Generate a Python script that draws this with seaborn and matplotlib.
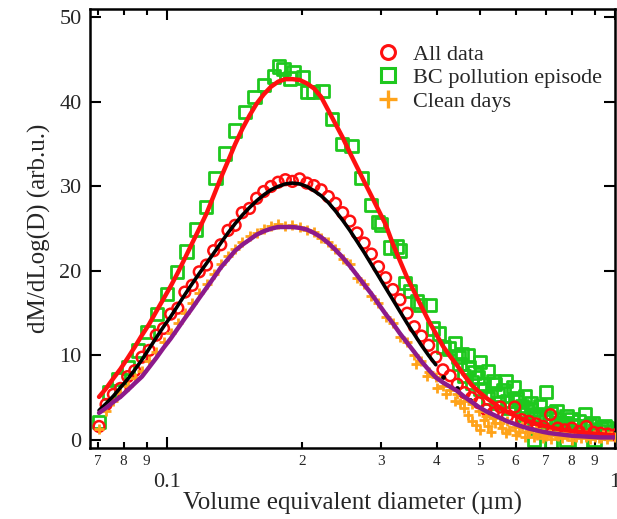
import seaborn as sns
import pandas as pd
import matplotlib.pyplot as plt
from matplotlib.lines import Line2D
from matplotlib.ticker import FixedLocator, FixedFormatter

# diameters (um) of the SP2 bins, shared by "All data" / "Clean days" and the fits
diam = [0.0705, 0.0731, 0.0759, 0.0787, 0.0817, 0.0847, 0.0879, 0.0912, 0.0946, 0.0982,
        0.1019, 0.1057, 0.1096, 0.1138, 0.1180, 0.1225, 0.1271, 0.1318, 0.1368, 0.1419,
        0.1472, 0.1528, 0.1585, 0.1644, 0.1706, 0.1770, 0.1837, 0.1905, 0.1977, 0.2051,
        0.2128, 0.2208, 0.2291, 0.2377, 0.2466, 0.2559, 0.2655, 0.2754, 0.2858, 0.2965,
        0.3076, 0.3192, 0.3311, 0.3436, 0.3565, 0.3698, 0.3837, 0.3981, 0.4130, 0.4285,
        0.4446, 0.4613, 0.4786, 0.4966, 0.5152, 0.5346, 0.5546, 0.5754, 0.5970, 0.6194,
        0.6427, 0.6668, 0.6918, 0.7178, 0.7447, 0.7727, 0.8017, 0.8318, 0.8630, 0.8954,
        0.9290, 0.9638, 1.0000]

all_data = [1.6, 4.2, 5.4, 6.1, 7.5, 8.2, 9.8, 10.6, 12.4, 13.2,
            14.9, 15.6, 17.5, 18.3, 19.9, 20.7, 22.4, 23.1, 24.8, 25.4,
            26.9, 27.4, 28.6, 29.4, 30.0, 30.5, 30.8, 30.6, 30.9, 30.4,
            30.1, 29.6, 28.8, 28.0, 26.9, 25.9, 24.5, 23.3, 22.0, 20.5,
            19.2, 17.8, 16.6, 15.0, 13.4, 12.3, 11.2, 9.8, 8.3, 7.6,
            6.6, 5.6, 5.0, 4.4, 3.6, 3.2, 3.9, 2.8, 3.9, 2.4,
            2.2, 1.9, 1.6, 3.0, 1.4, 1.2, 1.4, 1.0, 1.6, 0.9,
            0.8, 0.7, 0.6]

clean_days = [1.3, 3.4, 4.6, 5.5, 6.4, 7.3, 8.2, 9.3, 10.4, 11.6,
              12.7, 13.9, 15.0, 16.2, 17.4, 18.5, 19.6, 20.8, 21.8, 22.6,
              23.4, 24.1, 24.5, 25.0, 25.3, 25.5, 25.3, 25.4, 25.2, 24.8,
              24.6, 23.9, 23.4, 22.6, 21.4, 20.8, 19.2, 18.5, 17.0, 16.2,
              14.6, 13.9, 12.2, 11.6, 10.0, 9.4, 8.0, 7.5, 6.4, 5.9,
              5.4, 4.6, 4.2, 3.4, 2.8, 2.6, 2.0, 2.3, 1.5, 1.7,
              1.1, 1.3, 0.8, 0.9, 0.5, 0.8, 0.4, 0.7, 0.3, 0.6,
              0.2, 0.5, 0.4]
clean_tail_x = [0.36, 0.38, 0.40, 0.42, 0.44, 0.45, 0.46, 0.47, 0.48, 0.49,
                0.50, 0.51, 0.52, 0.53, 0.54, 0.56, 0.57, 0.58, 0.60, 0.61,
                0.63, 0.64, 0.66, 0.67, 0.69, 0.70, 0.72, 0.74, 0.76, 0.78,
                0.80, 0.82, 0.84, 0.86, 0.88, 0.90, 0.92, 0.94, 0.96, 0.98]
clean_tail_y = [9.0, 7.6, 6.2, 5.4, 4.6, 4.4, 3.8, 3.0, 2.2, 1.8,
                1.2, 2.4, 1.6, 1.0, 2.0, 1.4, 0.8, 1.2, 0.6, 1.0,
                0.4, 0.9, 0.3, 0.6, 0.2, 0.5, 0.1, 0.6, 0.2, 0.5,
                0.0, 0.4, 0.2, 0.6, 0.1, 0.4, 0.2, 0.6, 0.1, 0.5]

# BC pollution episode
bc_diam = [0.0705, 0.0741, 0.0779, 0.0818, 0.0861, 0.0905, 0.0951, 0.1000, 0.1051, 0.1105,
           0.1161, 0.1221, 0.1283, 0.1349, 0.1418, 0.1491, 0.1567, 0.1647, 0.1732, 0.1820,
           0.1914, 0.2012, 0.2115, 0.2223, 0.2337, 0.2457, 0.2583, 0.2715, 0.2854, 0.3000,
           0.3155, 0.3316, 0.3486, 0.3665, 0.3853, 0.4050, 0.4258, 0.4476, 0.4705, 0.4946,
           0.5200, 0.5466, 0.5746, 0.6041, 0.6350, 0.6676, 0.7018, 0.7377, 0.7755, 0.8152,
           0.8570, 0.9010, 0.9471, 0.9956]
bc_data = [2.1, 5.6, 7.2, 8.6, 10.6, 12.8, 14.9, 17.3, 19.9, 22.3,
           24.9, 27.6, 31.0, 33.9, 36.6, 38.8, 40.6, 42.0, 43.0, 43.9,
           43.5, 42.9, 41.2, 41.3, 38.0, 35.0, 34.8, 31.0, 27.8, 25.5,
           22.8, 22.4, 17.6, 16.0, 16.0, 12.6, 10.8, 9.8, 8.6, 7.4,
           8.1, 5.4, 4.6, 5.0, 3.4, 3.0, 5.7, 2.4, 2.0, 1.6,
           3.0, 1.2, 1.6, 1.0]
bc_extra_x = [0.178, 0.188, 0.206, 0.296, 0.326, 0.340, 0.361, 0.392, 0.414, 0.440, 0.455, 0.486, 0.510,
              0.535, 0.564, 0.594, 0.620, 0.650, 0.680, 0.720, 0.760, 0.800, 0.880, 0.930,
              0.45, 0.46, 0.47, 0.48, 0.50, 0.50, 0.52, 0.54, 0.55, 0.57, 0.58, 0.60, 0.62, 0.63,
              0.65, 0.66, 0.68, 0.70, 0.72, 0.74, 0.76, 0.78, 0.80, 0.83, 0.86, 0.89, 0.92, 0.96,
              0.66, 0.72, 0.78, 0.84, 0.90]
bc_extra_y = [44.2, 42.8, 41.2, 25.8, 22.9, 18.6, 16.4, 13.2, 11.0, 11.4, 10.2, 8.0, 6.6,
              7.0, 5.9, 6.3, 4.0, 4.4, 2.8, 3.2, 2.0, 2.4, 1.8, 1.4,
              9.0, 7.6, 10.0, 6.8, 9.2, 6.0, 5.0, 6.6, 4.4, 7.0, 3.8, 4.6, 3.0, 5.2,
              3.6, 2.6, 4.0, 2.2, 2.6, 3.4, 1.6, 2.8, 1.8, 2.2, 1.6, 2.0, 1.0, 1.4,
              0.0, -0.2, 0.0, -0.2, 0.0]

# log-normal fits
bc_fit = [5.1, 6.1, 7.3, 8.4, 9.7, 11.0, 12.4, 13.7, 15.2, 16.7,
          18.2, 19.8, 21.5, 23.3, 25.0, 26.8, 28.9, 31.0, 33.0, 35.0,
          36.8, 38.4, 39.8, 40.9, 41.8, 42.4, 42.7, 42.7, 42.6, 42.2,
          41.6, 40.6, 39.0, 37.4, 35.8, 34.0, 32.3, 30.6, 28.9, 27.2,
          25.5, 23.2, 21.2, 19.2, 17.5, 15.8, 14.1, 12.6, 11.1, 9.9,
          8.8, 7.6, 6.5, 5.7, 5.0, 4.4, 3.8, 3.3, 2.9, 2.5,
          2.2, 1.9, 1.7, 1.5, 1.3, 1.2, 1.05, 0.95, 0.85, 0.75,
          0.7, 0.6, 0.55]
all_fit = [3.5, 4.3, 5.2, 6.2, 7.2, 8.3, 9.5, 10.8, 12.1, 13.4,
           14.6, 15.9, 17.2, 18.5, 19.7, 20.9, 22.1, 23.3, 24.5, 25.6,
           26.6, 27.5, 28.3, 29.0, 29.6, 30.0, 30.3, 30.4, 30.3, 30.0,
           29.5, 28.9, 28.1, 27.1, 26.0, 24.8, 23.5, 22.2, 20.8, 19.4,
           18.0, 16.6, 15.2, 13.8, 12.5, 11.2, 10.0, 8.9]
all_tail_x = [0.414, 0.443, 0.475]
all_tail_y = [7.5, 6.1, 4.7]
clean_fit = [3.2, 3.8, 4.5, 5.1, 5.9, 6.7, 7.5, 8.6, 9.7, 10.9,
             12.0, 13.2, 14.4, 15.6, 16.8, 18.0, 19.2, 20.4, 21.4, 22.4,
             23.1, 23.7, 24.3, 24.7, 25.0, 25.2, 25.2, 25.2, 25.1, 24.9,
             24.5, 24.0, 23.3, 22.5, 21.6, 20.6, 19.5, 18.4, 17.3, 16.1,
             14.9, 13.8, 12.6, 11.5, 10.4, 9.3, 8.3, 7.4, 6.8, 6.3,
             5.8, 5.1, 4.5, 3.9, 3.4, 3.0, 2.6, 2.2, 1.9, 1.6,
             1.35, 1.15, 0.95, 0.8, 0.7, 0.6, 0.5, 0.45, 0.4, 0.35,
             0.3, 0.3, 0.3]

GREEN = '#1ec81e'
RED = '#ff1010'
ORANGE = '#ffa31a'
PURPLE = '#8c1a8c'

sns.set_theme(style="ticks")
plt.rcParams['font.family'] = ['Liberation Serif', 'DejaVu Serif']

fig = plt.figure(figsize=(6.17, 5.19), dpi=100)
ax = fig.add_axes([90/617, 71/519, 525/617, 439/519])

sns.scatterplot(x=bc_diam + bc_extra_x, y=bc_data + bc_extra_y, marker='s', s=80,
                facecolor='none', edgecolor=GREEN, linewidth=2.0, ax=ax, zorder=2)
sns.scatterplot(x=diam, y=all_data, marker='o', s=60,
                facecolor='none', edgecolor=RED, linewidth=1.8, ax=ax, zorder=3)
sns.scatterplot(x=diam + clean_tail_x, y=clean_days + clean_tail_y, marker='+', s=45,
                color=ORANGE, linewidth=2.0, ax=ax, zorder=4)

sns.lineplot(x=diam, y=bc_fit, color=RED, linewidth=3.2, sort=False, estimator=None, ax=ax, zorder=5)
sns.lineplot(x=diam[:len(all_fit)], y=all_fit, color='black', linewidth=2.6, sort=False,
             estimator=None, ax=ax, zorder=6)
sns.scatterplot(x=all_tail_x, y=all_tail_y, color='black', s=12, linewidth=0, ax=ax, zorder=6)
sns.lineplot(x=diam, y=clean_fit, color=PURPLE, linewidth=3.2, sort=False, estimator=None, ax=ax, zorder=7)

ax.set_xscale('log')
ax.set_xlim(0.0673, 1.0)
ax.set_ylim(-0.95, 51.0)

ax.xaxis.set_major_locator(FixedLocator([0.1, 1.0]))
ax.xaxis.set_major_formatter(FixedFormatter(['0.1', '1']))
minor_pos = [0.07, 0.08, 0.09, 0.2, 0.3, 0.4, 0.5, 0.6, 0.7, 0.8, 0.9]
ax.xaxis.set_minor_locator(FixedLocator(minor_pos))
ax.xaxis.set_minor_formatter(FixedFormatter(['7', '8', '9', '2', '3', '4', '5', '6', '7', '8', '9']))
ax.set_yticks([0, 10, 20, 30, 40, 50])

for s in ax.spines.values():
    s.set_linewidth(1.8)
    s.set_color('black')
ax.tick_params(axis='both', which='both', direction='in', top=True, right=True, color='black')
ax.tick_params(axis='y', which='major', length=8, width=1.5, labelsize=16, pad=6)
ax.tick_params(axis='x', which='major', length=8, width=1.5, labelsize=16, pad=18)
ax.tick_params(axis='x', which='minor', length=4.5, width=1.5, labelsize=11, pad=5)

ax.set_xlabel('Volume equivalent diameter (µm)', fontsize=18, labelpad=0)
ax.set_ylabel('dM/dLog(D) (arb.u.)', fontsize=18, labelpad=6)

handles = [
    Line2D([], [], ls='none', marker='o', ms=10, mfc='none', mec=RED, mew=2.2),
    Line2D([], [], ls='none', marker='s', ms=10, mfc='none', mec=GREEN, mew=2.2),
    Line2D([], [], ls='none', marker='+', ms=13, mec=ORANGE, mew=2.4),
]
ax.legend(handles, ['All data', 'BC pollution episode', 'Clean days'], loc='upper left',
          bbox_to_anchor=((377 - 90) / 525, (448 - 44) / 439), frameon=False, fontsize=16,
          handlelength=1.0, handletextpad=0.64, labelspacing=0.14, borderpad=0, borderaxespad=0)

fig.savefig('out.png', dpi=100)
